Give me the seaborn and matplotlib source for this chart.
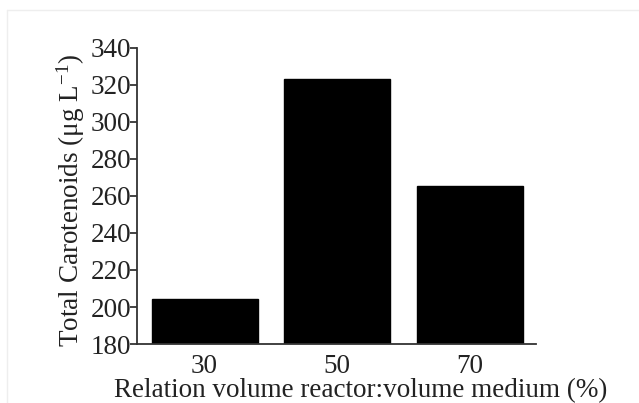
import matplotlib
matplotlib.use("Agg")
import matplotlib.pyplot as plt
import seaborn as sns
import pandas as pd

categories = ["30", "50", "70"]
carotenoids = [204.5, 323.5, 265.5]
y_ticks = [180, 200, 220, 240, 260, 280, 300, 320, 340]

sns.set_style("ticks")
plt.rcParams['font.family'] = ['Liberation Serif', 'DejaVu Serif']
plt.rcParams['mathtext.fontset'] = 'custom'
plt.rcParams['mathtext.rm'] = 'Liberation Serif'
plt.rcParams['mathtext.it'] = 'Liberation Serif:italic'

df = pd.DataFrame({"rel": categories, "val": carotenoids})

fig = plt.figure(figsize=(6.39, 4.03), dpi=100)
ax = fig.add_axes([0.2144, 0.1464, 0.8388 - 0.2144, 0.8809 - 0.1464])
sns.barplot(data=df, x="rel", y="val", color="black", width=0.8, ax=ax,
            saturation=1, edgecolor="black")
ax.set_ylim(180, 340)
ax.set_xlim(-0.51, 2.5)
ax.set_yticks(y_ticks)
ax.tick_params(axis='y', direction='out', length=5, width=1.2, labelsize=19.5, pad=-1, colors='#222222', labelcolor='#222222')
ax.tick_params(axis='x', length=0, labelsize=19.5, pad=7, labelcolor='#222222')
for s in ['top', 'right']:
    ax.spines[s].set_visible(False)
for s in ['left', 'bottom']:
    ax.spines[s].set_linewidth(1.3)
    ax.spines[s].set_color('#333333')
ax.set_xlabel("Relation volume reactor:volume medium (%)", fontsize=19.5, color='#222222')
ax.xaxis.set_label_coords(0.561, -0.179)
ax.xaxis.label.set_va('baseline')
ax.set_ylabel(r"Total Carotenoids (μg L$^{\mathregular{-1}}$)", fontsize=19.5, labelpad=3, color='#222222')
ax.yaxis.label.set_y(0.486)

# faint frame of the original image
fig.add_artist(plt.Line2D([0.011, 1.0], [0.975, 0.975], color='#eeeeee', lw=1))
fig.add_artist(plt.Line2D([0.011, 0.011], [0.0, 0.975], color='#eeeeee', lw=1))

fig.savefig("out.png", dpi=100, facecolor='white')
